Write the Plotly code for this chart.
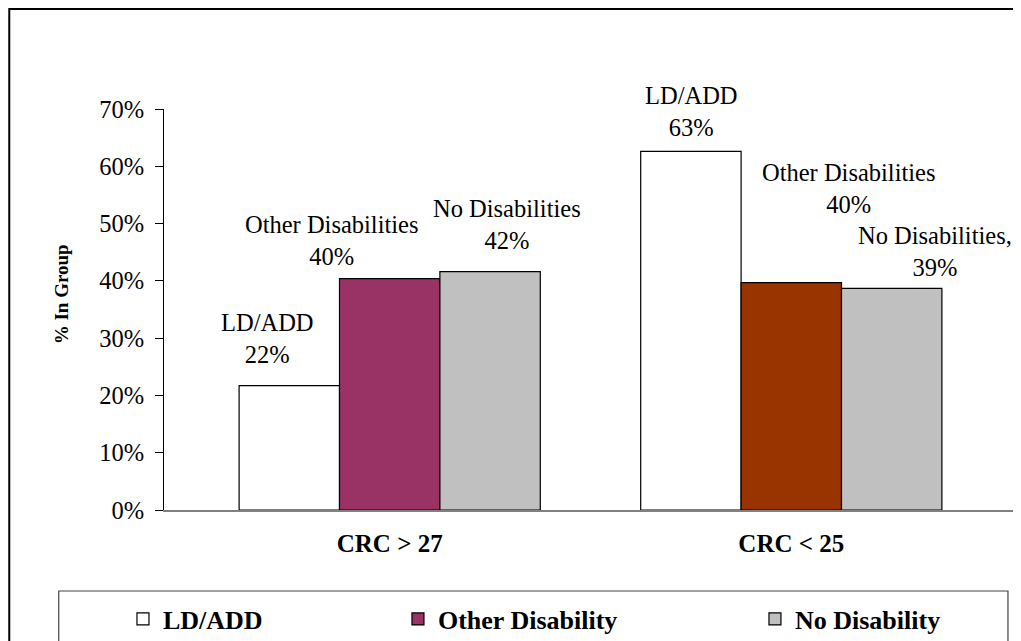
import plotly.graph_objects as go

# ---- data ----
categories = ["CRC > 27", "CRC < 25"]
series_names = ["LD/ADD", "Other Disability", "No Disability"]
ld_add = [0.217, 0.626]
other_disability = [0.404, 0.397]
no_disability = [0.416, 0.387]
label_names = [
    ["LD/ADD", "LD/ADD"],
    ["Other Disabilities", "Other Disabilities"],
    ["No Disabilities", "No Disabilities,"],
]
y_ticks = [0, 0.1, 0.2, 0.3, 0.4, 0.5, 0.6, 0.7]

# ---- style ----
FONT = "Liberation Serif"
fills = [["#ffffff", "#ffffff"], ["#993366", "#993300"], ["#c0c0c0", "#c0c0c0"]]
legend_widths = [230, 312, 150]
# label offsets (px) relative to category centre / bar top
label_shift = [
    [(-122, 47), (-100, 40)],
    [(-58, 38), (58, 94)],
    [(117, 47), (144, 37)],
]

values = [ld_add, other_disability, no_disability]

fig = go.Figure()
for i, name in enumerate(series_names):
    fig.add_trace(go.Bar(
        x=categories, y=values[i], name=name,
        marker=dict(color=fills[i], line=dict(color="#000000", width=1.2)),
        legendwidth=legend_widths[i],
        hoverinfo="skip",
    ))

annotations = []
for i in range(3):
    for j, cat in enumerate(categories):
        v = values[i][j]
        dx, dy = label_shift[i][j]
        annotations.append(dict(
            x=cat, y=v, xref="x", yref="y",
            text=f"{label_names[i][j]}<br>{round(v * 100)}%",
            showarrow=False, xanchor="center", yanchor="middle",
            xshift=dx, yshift=dy, align="center",
            font=dict(family=FONT, size=24.5, color="#000000"),
        ))

annotations.append(dict(
    x=-0.12, y=0.537, xref="paper", yref="paper",
    text="% In Group", textangle=-90, showarrow=False,
    xanchor="center", yanchor="middle",
    font=dict(family=FONT, size=19, color="#000000", weight="bold"),
))

shapes = [
    # outer chart border
    dict(type="rect", xref="paper", yref="paper",
         x0=-0.1814, x1=1.04, y0=-0.45, y1=1.2494,
         line=dict(color="#000000", width=2), fillcolor="rgba(0,0,0,0)", layer="below"),
    # legend box
    dict(type="rect", xref="paper", yref="paper",
         x0=-0.1234, x1=0.9894, y0=-0.40, y1=-0.202,
         line=dict(color="#444444", width=1.2), fillcolor="rgba(0,0,0,0)", layer="below"),
    # right end tick of category axis
    dict(type="line", xref="paper", yref="paper",
         x0=1, x1=1, y0=0, y1=-0.013,
         line=dict(color="#808080", width=1.5)),
]

# the page body adds an 8px offset, so margins are reduced accordingly
fig.update_layout(
    width=1021, height=641,
    margin=dict(l=156, r=12, t=101, b=139, pad=0, autoexpand=False),
    paper_bgcolor="#ffffff", plot_bgcolor="#ffffff",
    barmode="group", bargap=0.25, bargroupgap=0,
    font=dict(family=FONT, size=24, color="#000000"),
    showlegend=True,
    legend=dict(
        orientation="h", xref="container", yref="container",
        x=0.1126, xanchor="left", y=0.0468, yanchor="middle",
        bgcolor="rgba(0,0,0,0)", borderwidth=0,
        font=dict(family=FONT, size=26, color="#000000", weight="bold"),
        traceorder="normal",
    ),
    annotations=annotations,
    shapes=shapes,
)

fig.update_yaxes(
    range=[0, 0.7], tickvals=y_ticks, tickformat=".0%",
    showgrid=False, zeroline=False,
    showline=True, linecolor="#000000", linewidth=1,
    ticks="outside", ticklen=8, tickcolor="#000000", tickwidth=1,
    ticklabelstandoff=6,
    tickfont=dict(family=FONT, size=24.5, color="#000000"),
)
fig.update_xaxes(
    type="category", range=[-0.562, 1.562],
    showgrid=False, zeroline=False,
    showline=True, linecolor="#808080", linewidth=1.5,
    ticks="", ticklabelstandoff=10,
    tickfont=dict(family=FONT, size=25, color="#000000", weight="bold"),
)

fig.write_html("out.html")
